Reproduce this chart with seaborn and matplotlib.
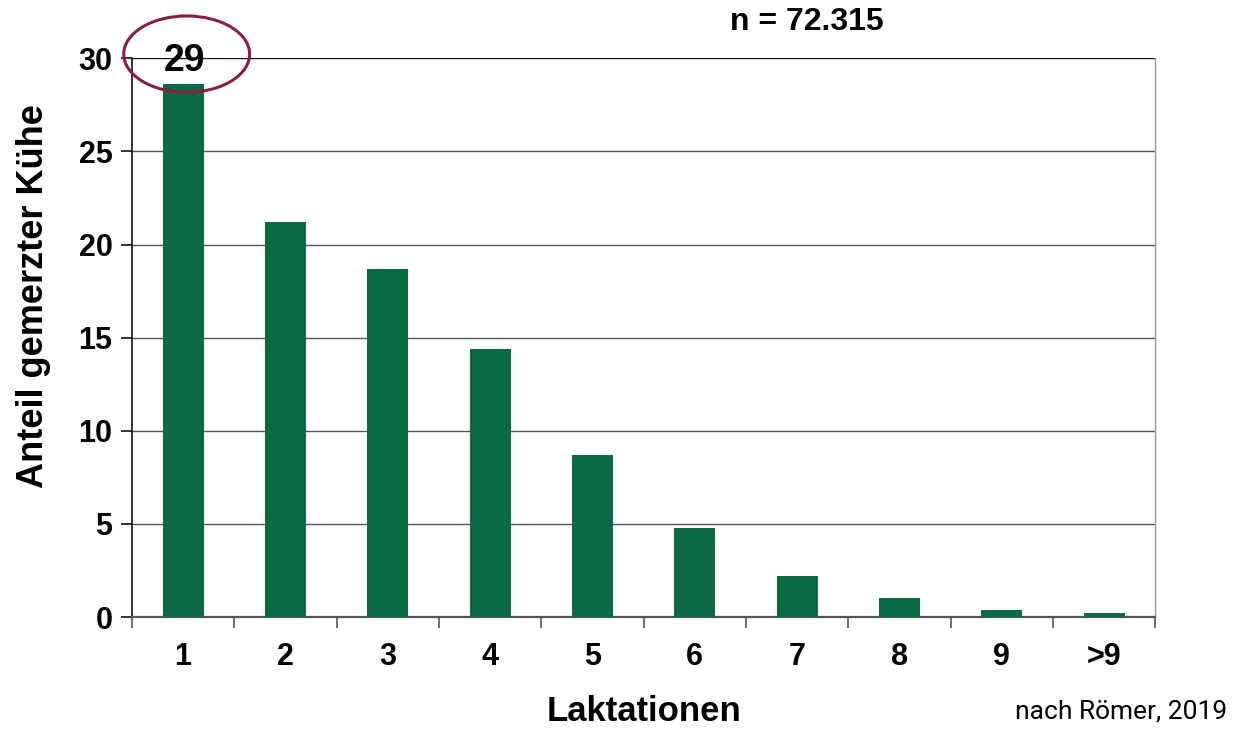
import matplotlib
matplotlib.use("Agg")
import matplotlib.pyplot as plt
from matplotlib.patches import Ellipse
import seaborn as sns
import pandas as pd

# Share of culled cows by lactation number
lactations = ["1", "2", "3", "4", "5", "6", "7", "8", "9", ">9"]
share_pct = [28.6, 21.2, 18.7, 14.4, 8.7, 4.8, 2.2, 1.0, 0.4, 0.2]
y_ticks = [0, 5, 10, 15, 20, 25, 30]
sample_note = "n = 72.315"
source_note = "nach Römer, 2019"

sns.set_theme(style="white")
plt.rcParams["font.family"] = ["Liberation Sans", "DejaVu Sans"]
plt.rcParams["text.color"] = "black"
plt.rcParams["axes.labelcolor"] = "black"
plt.rcParams["xtick.color"] = "black"
plt.rcParams["ytick.color"] = "black"

df = pd.DataFrame({"Laktation": lactations, "Anteil": share_pct})

fig = plt.figure(figsize=(12.33, 7.29), dpi=100)
ax = fig.add_axes([0.107, 0.1536, 0.830, 0.7665])

sns.barplot(data=df, x="Laktation", y="Anteil", color="#0b6a43",
            saturation=1, width=0.4, linewidth=0, ax=ax, zorder=3)

ax.set_ylim(0, 30)
ax.set_xlim(-0.5, len(lactations) - 0.5)
ax.set_yticks(y_ticks)
for y in y_ticks[1:]:
    ax.axhline(y, color="#555555" if y < 30 else "#111111", lw=1.0, zorder=1)

ax.spines["top"].set_visible(False)
ax.spines["left"].set_color("#111111")
ax.spines["left"].set_linewidth(1.2)
ax.spines["bottom"].set_color("#555555")
ax.spines["bottom"].set_linewidth(1.6)
ax.spines["right"].set_color("#999999")
ax.spines["right"].set_linewidth(1.0)

# x ticks sit between the categories, labels centred under the bars
ax.set_xticks([i - 0.5 for i in range(len(lactations) + 1)], minor=False)
ax.set_xticklabels([])
ax.set_xticks(range(len(lactations)), minor=True)
ax.set_xticklabels(lactations, minor=True)
ax.tick_params(axis="x", which="major", direction="out", length=8, width=1.2,
               color="#555555", bottom=True)
ax.tick_params(axis="x", which="minor", length=0, pad=18, labelsize=22)
for t in ax.get_xticklabels(minor=True):
    t.set_fontweight("bold")
ax.tick_params(axis="y", direction="out", length=8, width=1.2,
               color="#111111", left=True, labelsize=22, pad=6)
for t in ax.get_yticklabels():
    t.set_fontweight("bold")

ax.set_xlabel("Laktationen", fontsize=25, fontweight="bold")
ax.xaxis.set_label_coords(0.5, -0.186)
ax.xaxis.label.set_va("baseline")
ax.set_ylabel("Anteil gemerzter Kühe", fontsize=26, fontweight="bold")
ax.yaxis.set_label_coords(-0.079, 0.574)

# value of the first bar with a highlighting ellipse
ax.text(0.01, 29.85, f"{share_pct[0]:.0f}", ha="center", va="center",
        fontsize=27, fontweight="bold", zorder=5, clip_on=False)
ax.add_patch(Ellipse((0.035, 30.22), width=1.23, height=4.1, fill=False,
                     edgecolor="#8b1e3f", lw=2.2, zorder=6, clip_on=False))

fig.text(0.654, 0.97, sample_note, ha="center", va="center",
         fontsize=23, fontweight="bold")
fig.text(0.995, 0.008, source_note, ha="right", va="bottom",
         fontsize=19, family=["Roboto", "DejaVu Sans"])

fig.savefig("out.png", dpi=100)
